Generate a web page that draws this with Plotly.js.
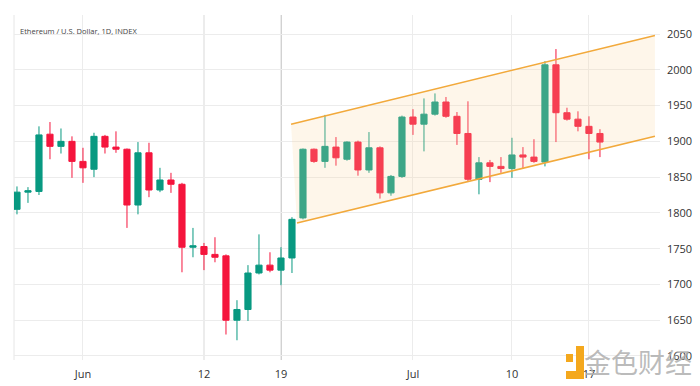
<!DOCTYPE html>
<html>
<head>
<meta charset="utf-8">
<script src="https://cdn.plot.ly/plotly-3.0.1.min.js"></script>
<style>html,body{margin:0;padding:0;background:#fff;}#chart{width:700px;height:386px;}</style>
</head>
<body>
<div id="chart"></div>
<script>
// ---- data ----
const dates = [
  '2023-05-26','2023-05-27','2023-05-28','2023-05-29','2023-05-30','2023-05-31',
  '2023-06-01','2023-06-02','2023-06-03','2023-06-04','2023-06-05','2023-06-06','2023-06-07',
  '2023-06-08','2023-06-09','2023-06-10','2023-06-11','2023-06-12','2023-06-13','2023-06-14',
  '2023-06-15','2023-06-16','2023-06-17','2023-06-18','2023-06-19','2023-06-20','2023-06-21',
  '2023-06-22','2023-06-23','2023-06-24','2023-06-25','2023-06-26','2023-06-27','2023-06-28',
  '2023-06-29','2023-06-30','2023-07-01','2023-07-02','2023-07-03','2023-07-04','2023-07-05',
  '2023-07-06','2023-07-07','2023-07-08','2023-07-09','2023-07-10','2023-07-11','2023-07-12',
  '2023-07-13','2023-07-14','2023-07-15','2023-07-16','2023-07-17','2023-07-18'
];
const openP  = [1805,1829,1830,1910,1893,1900,1872,1861,1907,1892,1889,1811,1884,1832,1846,1840,1752,1753,1742,1740,1650,1665,1716,1727,1720,1737,1793,1889,1872,1892,1875,1899,1860,1891,1828,1851,1934,1924,1938,1955,1935,1911,1847,1870,1865,1862,1881,1878,1871,2007,1940,1931,1921,1911];
const highP  = [1837,1836,1921,1927,1918,1907,1891,1912,1909,1914,1890,1899,1898,1863,1856,1842,1779,1758,1766,1742,1678,1727,1770,1745,1752,1794,1890,1890,1937,1906,1900,1901,1913,1893,1853,1936,1945,1960,1967,1962,1941,1956,1878,1874,1878,1905,1892,1903,2012,2029,1947,1942,1935,1917];
const lowP   = [1798,1814,1825,1875,1883,1849,1842,1850,1883,1884,1779,1798,1822,1829,1828,1717,1738,1720,1731,1630,1622,1649,1714,1717,1699,1716,1791,1870,1863,1866,1873,1852,1856,1820,1824,1849,1909,1886,1936,1933,1895,1844,1826,1843,1856,1849,1862,1870,1865,1899,1929,1914,1875,1878];
const closeP = [1829,1831,1909,1893,1900,1872,1863,1907,1892,1889,1811,1884,1832,1846,1840,1752,1754,1742,1738,1650,1665,1716,1727,1720,1737,1791,1889,1872,1893,1877,1899,1860,1891,1828,1851,1934,1924,1938,1955,1935,1911,1847,1870,1865,1862,1881,1878,1872,2007,1940,1931,1921,1911,1899];

// ascending channel
const upperX = ['2023-06-19 22:00','2023-07-23 00:00'];
const upperY = [1924, 2048];
const lowerX = ['2023-06-20 11:00','2023-07-23 00:00'];
const lowerY = [1786, 1907];

// axis ticks
const xTickVals = ['2023-06-01','2023-06-12','2023-06-19','2023-07-01','2023-07-10','2023-07-17'];
const xTickText = ['Jun','12','19','Jul','10','17'];
const darkGridDates = ['2023-06-12','2023-06-19'];
const darkGridColors = ['#d6d6d6','#a0a0a0'];
const yTickVals = [1600,1650,1700,1750,1800,1850,1900,1950,2000,2050];

const chartTitle = 'Ethereum / U.S. Dollar, 1D, INDEX';
const watermark = '金色财经';

// ---- traces ----
const channelFill = {
  type: 'scatter', mode: 'lines',
  x: [upperX[0], upperX[1], lowerX[1], lowerX[0], upperX[0]],
  y: [upperY[0], upperY[1], lowerY[1], lowerY[0], upperY[0]],
  fill: 'toself', fillcolor: 'rgba(250,214,160,0.22)',
  line: {width: 0}, hoverinfo: 'skip', showlegend: false
};
const upperLine = {type:'scatter', mode:'lines', x: upperX, y: upperY,
  line:{color:'#f2a93b', width:1.6}, showlegend:false, hoverinfo:'skip'};
const lowerLine = {type:'scatter', mode:'lines', x: lowerX, y: lowerY,
  line:{color:'#f2a93b', width:1.6}, showlegend:false, hoverinfo:'skip'};

const candles = {
  type: 'candlestick',
  x: dates, open: openP, high: highP, low: lowP, close: closeP,
  increasing: {line:{color:'#089981', width:1}, fillcolor:'#089981'},
  decreasing: {line:{color:'#f5153d', width:1}, fillcolor:'#f5153d'},
  whiskerwidth: 0,
  showlegend: false
};

// ---- layout ----
const L = 14, R = 40, T = 15, B = 26, W = 700, H = 386;
const pw = W - L - R, ph = H - T - B;
const px = X => (X - L) / pw;
const py = Y => (H - B - Y) / ph;

const shapes = darkGridDates.map((d, i) => ({
  type:'line', xref:'x', yref:'paper', x0:d, x1:d, y0:0, y1:1,
  line:{color:darkGridColors[i], width:1}, layer:'below'
}));
shapes.push({type:'line', xref:'paper', yref:'paper', x0:0, x1:0, y0:0, y1:1, line:{color:'#e6e6e6', width:1}, layer:'below'});
// orange logo mark of watermark
shapes.push({type:'rect', xref:'paper', yref:'paper', x0:px(566), x1:px(573), y0:py(362), y1:py(354), fillcolor:'#f4a81d', line:{width:0}});
shapes.push({type:'rect', xref:'paper', yref:'paper', x0:px(576), x1:px(584), y0:py(379), y1:py(346), fillcolor:'#f4a81d', line:{width:0}});
shapes.push({type:'rect', xref:'paper', yref:'paper', x0:px(566), x1:px(584), y0:py(379), y1:py(371), fillcolor:'#f4a81d', line:{width:0}});

const layout = {
  width: W, height: H,
  margin: {l:L, r:R, t:T, b:B, pad:0},
  paper_bgcolor:'#ffffff', plot_bgcolor:'#ffffff',
  font: {family:'"Open Sans", "DejaVu Sans", sans-serif', size:11, color:'#333'},
  showlegend: false,
  boxgap: 0.2,
  xaxis: {
    type:'date',
    range:['2023-05-25 17:30','2023-07-23 11:00'],
    tickvals: xTickVals, ticktext: xTickText,
    showgrid:true, gridcolor:'#ececec', gridwidth:1,
    ticks:'', ticklabelstandoff: 6,
    showline:false, zeroline:false,
    rangeslider:{visible:false},
    tickfont:{size:11, color:'#333'}
  },
  yaxis: {
    side:'right',
    range:[1594.4, 2076.6],
    tickvals: yTickVals,
    showgrid:true, gridcolor:'#ececec', gridwidth:1,
    ticks:'', ticklabelstandoff: 6,
    showline:false, zeroline:false,
    tickfont:{size:11, color:'#333'}
  },
  shapes: shapes,
  annotations: [
    {text: chartTitle, xref:'paper', yref:'paper', x:px(18), y:py(31), xanchor:'left', yanchor:'middle',
     showarrow:false, font:{size:7.5, color:'#444'}},
    {text: watermark, xref:'paper', yref:'paper', x:px(638), y:py(362), xanchor:'center', yanchor:'middle',
     showarrow:false, font:{size:27, color:'rgba(175,175,175,0.85)', family:'"Noto Sans CJK SC", sans-serif'}}
  ]
};

Plotly.newPlot('chart', [channelFill, upperLine, lowerLine, candles], layout, {staticPlot:true, displayModeBar:false});
</script>
</body>
</html>
